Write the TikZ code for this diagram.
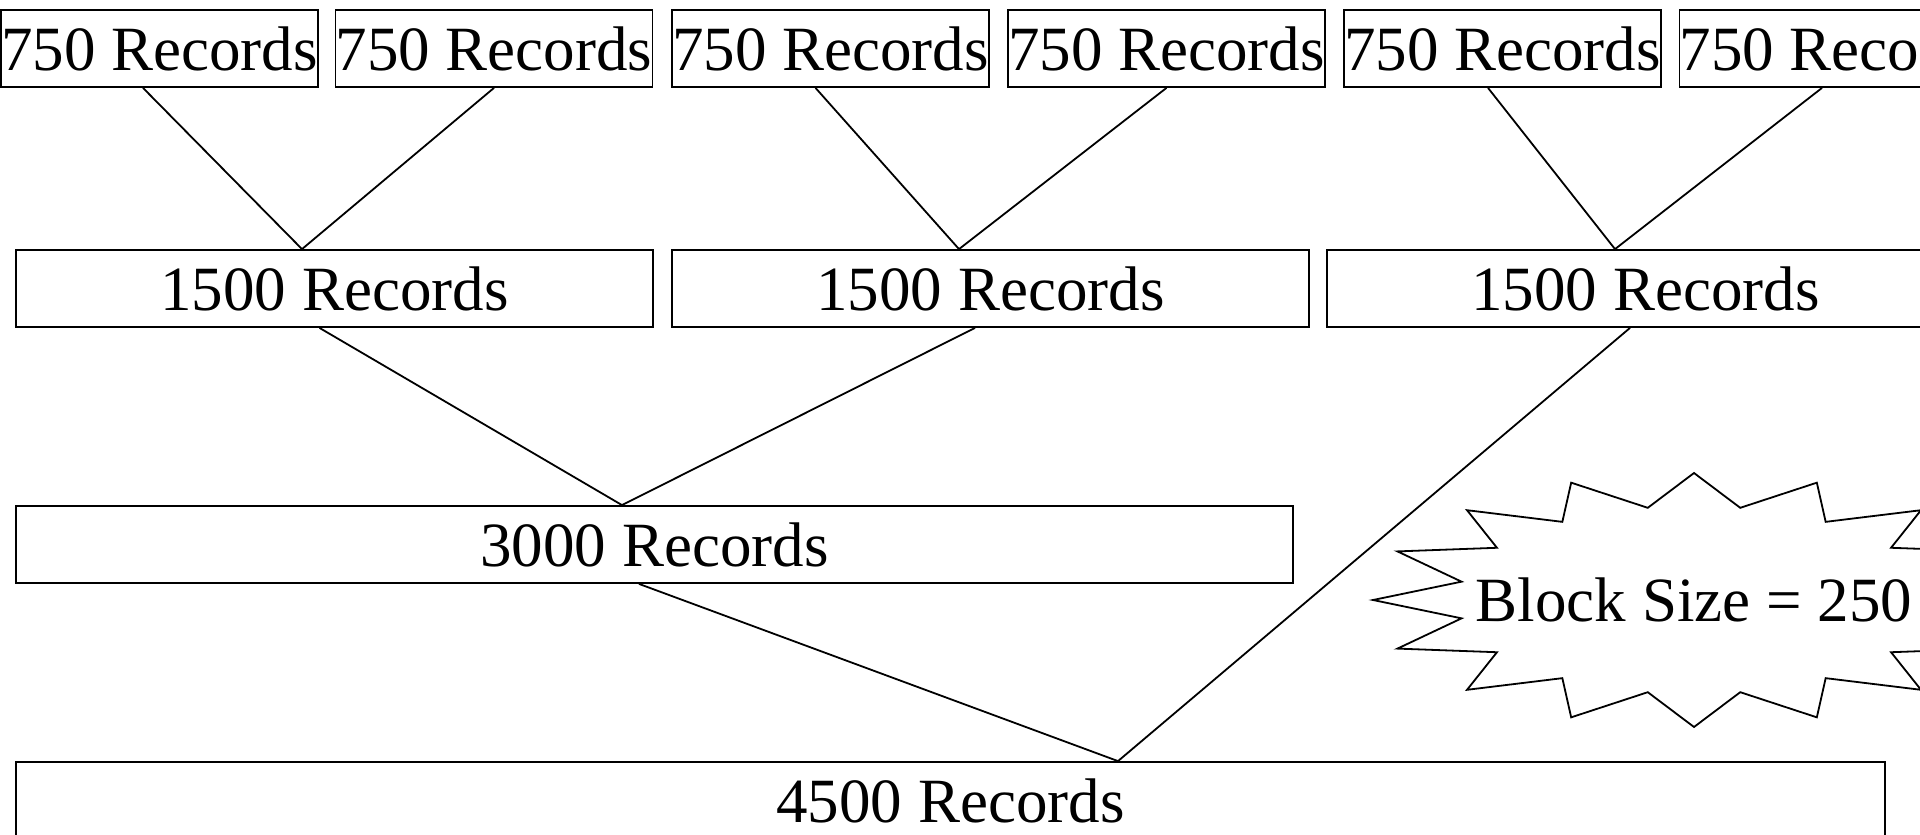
\documentclass[tikz,border=0pt]{standalone}
\usepackage{fontspec}
\setmainfont{Liberation Serif}
\begin{document}
\begin{tikzpicture}[x=1pt,y=-1pt,
  rec/.style={draw, line width=1.8pt, inner sep=0pt, minimum height=77pt,
    font=\fontsize{63}{70}\selectfont, anchor=center},
  w1/.style={rec, minimum width=317pt},
  w2/.style={rec, minimum width=637pt},
  w3/.style={rec, minimum width=1277pt},
  w4/.style={rec, minimum width=1869pt},
  conn/.style={line width=1.8pt}]
\useasboundingbox (0,0) rectangle (1920,835);
\clip (0,0) rectangle (1920,835);
% top row
\node[w1] (b1) at (159.5,48.5) {750 Records};
\node[w1] (b2) at (494,48.5) {750 Records};
\node[w1] (b3) at (830.5,48.5) {750 Records};
\node[w1] (b4) at (1166.5,48.5) {750 Records};
\node[w1] (b5) at (1502.5,48.5) {750 Records};
\node[w1] (b6) at (1838,48.5) {750 Records};
% second row
\node[w2] (c1) at (334.5,288.5) {1500 Records};
\node[w2] (c2) at (990.5,288.5) {1500 Records};
\node[w2] (c3) at (1645.5,288.5) {1500 Records};
% third row
\node[w3] (d1) at (654.5,544.5) {3000 Records};
% fourth row
\node[w4] (e1) at (950.5,800.5) {4500 Records};
% connectors
\draw[conn] ([xshift=-16.5pt]b1.south) -- ([xshift=-32.5pt]c1.north) -- (b2.south);
\draw[conn] ([xshift=-15pt]b3.south) -- ([xshift=-31.5pt]c2.north) -- (b4.south);
\draw[conn] ([xshift=-14.5pt]b5.south) -- ([xshift=-30.5pt]c3.north) -- ([xshift=-16pt]b6.south);
\draw[conn] ([xshift=-15pt]c1.south) -- ([xshift=-32.5pt]d1.north) -- ([xshift=-15.5pt]c2.south);
\draw[conn] ([xshift=-15.5pt]d1.south) -- ([xshift=167.5pt]e1.north) -- ([xshift=-15.5pt]c3.south);
% starburst
\node[font=\fontsize{63}{70}\selectfont, inner sep=0pt] (bs) at (1694,600) {Block Size = 250};
\draw[line width=1.8pt, line join=miter, shift={(bs.center)}] (90:321 and 127)
  \foreach \i in {0,...,15} { -- ({101.25+22.5*\i}:237 and 94) -- ({112.5+22.5*\i}:321 and 127) } -- cycle;
\end{tikzpicture}
\end{document}
